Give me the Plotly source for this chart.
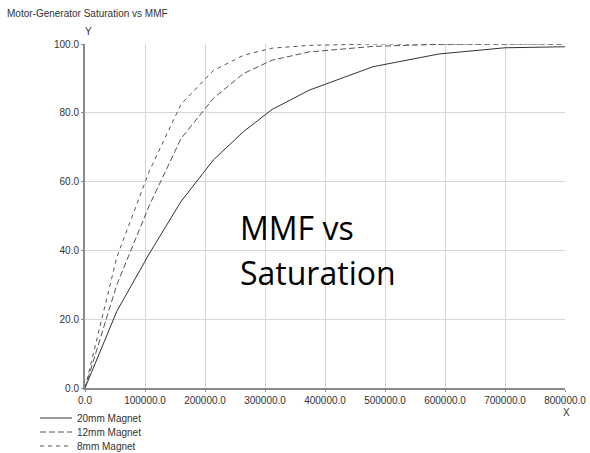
import plotly.graph_objects as go

# Data
mmf_x = [0, 53000, 107000, 160000, 214000, 264000, 312000, 374000, 480000, 590000, 700000, 800000]
sat_20mm = [0, 22.3, 39.0, 54.2, 66.3, 74.5, 81.0, 86.6, 93.4, 97.1, 98.9, 99.2]
sat_12mm = [0, 30.0, 53.0, 72.5, 84.2, 91.4, 95.3, 97.7, 99.3, 99.9, 100.0, 100.0]
sat_8mm = [0, 38.0, 63.0, 82.5, 92.3, 96.7, 98.8, 99.6, 100.0, 100.0, 100.0, 100.0]
series_names = ["20mm Magnet", "12mm Magnet", "8mm Magnet"]

FONT = "Liberation Sans, Arial, sans-serif"
TXT = "#333333"

fig = go.Figure()
styles = [("solid", "#333333"), ("6px,3px", "#555555"), ("4px,4px", "#555555")]
for name, ys, (dash, col) in zip(series_names, [sat_20mm, sat_12mm, sat_8mm], styles):
    fig.add_trace(go.Scatter(x=mmf_x, y=ys, mode="lines", name=name,
                             line=dict(color=col, width=1, dash=dash),
                             showlegend=False))

# plot area geometry in pixels: x 85..565, y 44..388
L, R, T, B = 85, 565, 44, 388
W, H = R - L, B - T
def px(xp):
    return (xp - L) / W
def py(yp):
    return (B - yp) / H

annotations = [
    dict(text="Motor-Generator Saturation vs MMF", x=px(5), y=py(13), xanchor="left", yanchor="middle",
         font=dict(size=10, color=TXT, family=FONT)),
    dict(text="Y", x=px(88), y=py(32), xanchor="center", yanchor="middle",
         font=dict(size=10, color=TXT, family=FONT)),
    dict(text="X", x=px(566), y=py(413), xanchor="center", yanchor="middle",
         font=dict(size=10, color=TXT, family=FONT)),
    dict(text="MMF vs", x=px(238), y=py(227.5), xanchor="left", yanchor="middle",
         font=dict(size=32, color="#000000", family="Open Sans, sans-serif")),
    dict(text="Saturation", x=px(238), y=py(272.5), xanchor="left", yanchor="middle",
         font=dict(size=32, color="#000000", family="Open Sans, sans-serif")),
]
shapes = []
leg_rows = [418, 432, 446]
for name, yy, (dash, col) in zip(series_names, leg_rows, styles):
    shapes.append(dict(type="line", xref="paper", yref="paper", x0=px(40), x1=px(72), y0=py(yy), y1=py(yy),
                       line=dict(color=col, width=1, dash=dash)))
    annotations.append(dict(text=name, x=px(75), y=py(yy), xanchor="left", yanchor="middle",
                            font=dict(size=10, color=TXT, family=FONT)))
for a in annotations:
    a.update(xref="paper", yref="paper", showarrow=False)

fig.update_layout(
    width=590, height=453,
    margin=dict(l=L, r=590 - R, t=T, b=453 - B, autoexpand=False),
    paper_bgcolor="white", plot_bgcolor="white",
    font=dict(family=FONT, size=10, color=TXT),
    annotations=annotations, shapes=shapes,
    showlegend=False,
)
axis_common = dict(tickformat=".1f", showgrid=True, gridcolor="#d6d6d6", gridwidth=1,
                   showline=True, linecolor="#8a8a8a", linewidth=2,
                   ticks="outside", ticklen=2, tickcolor="#8a8a8a",
                   zeroline=False, automargin=False,
                   tickfont=dict(size=10, color=TXT, family=FONT))
fig.update_xaxes(range=[0, 800000], dtick=100000, tick0=0, **axis_common)
fig.update_yaxes(range=[0, 100], dtick=20, tick0=0, **axis_common)

fig.write_html("out.html", config={"displayModeBar": False},
               post_script="document.body.style.margin='0';document.body.style.overflow='hidden';")
